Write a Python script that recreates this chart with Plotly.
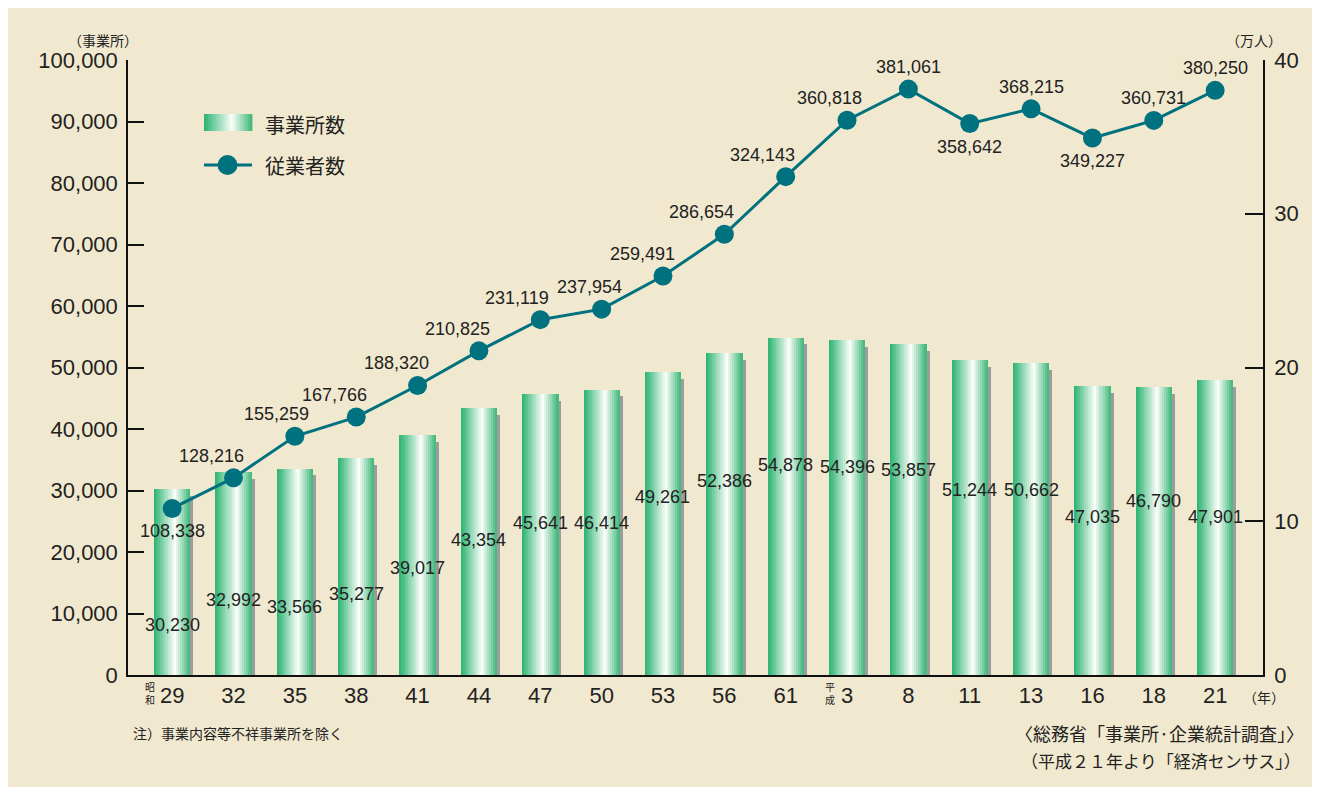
import plotly.graph_objects as go

# ---------------- data ----------------
years = ["29", "32", "35", "38", "41", "44", "47", "50", "53", "56", "61",
         "3", "8", "11", "13", "16", "18", "21"]
establishments = [30230, 32992, 33566, 35277, 39017, 43354, 45641, 46414, 49261,
                  52386, 54878, 54396, 53857, 51244, 50662, 47035, 46790, 47901]
employees = [108338, 128216, 155259, 167766, 188320, 210825, 231119, 237954, 259491,
             286654, 324143, 360818, 381061, 358642, 368215, 349227, 360731, 380250]

# label placement (layout only)
bar_label_y = [8130, 12200, 11060, 13170, 17400, 21950, 24700, 24700, 28950,
               31550, 34150, 33820, 33330, 30080, 30080, 25700, 28300, 25700]
line_label_pos = ["below", "above", "above", "above", "above", "above", "above", "above", "above",
                  "above", "above", "above", "above", "below", "above", "below", "above", "above"]
line_label_dx = [0, -22, -18, -22, -21, -21, -23, -12, -20, -23, -23, -18, 0, 0, 0, 0, 0, 0]

# ---------------- style ----------------
BG = "#f1e9cf"
TEAL = "#00717f"
TXT = "#222222"
NUM_FONT = "Liberation Sans, Arial, sans-serif"
JP_FONT = "Noto Sans CJK JP, sans-serif"

OFF = 8  # page body margin
W, H = 1312, 779
L, R, T, B = 120, 57, 52, 112
PW, PH = W - L - R, H - T - B


def px2x(px):
    return (px - OFF - L) / PW


def py2y(py):
    return (H - B - (py - OFF)) / PH


def grad(t):
    stops = [(0.0, (40, 178, 112)), (0.58, (252, 254, 250)), (1.0, (58, 182, 118))]
    for (t0, c0), (t1, c1) in zip(stops[:-1], stops[1:]):
        if t0 <= t <= t1:
            f = (t - t0) / (t1 - t0)
            c = [round(a + (b - a) * f) for a, b in zip(c0, c1)]
            return "rgb(%d,%d,%d)" % tuple(c)
    return "rgb(58,182,118)"


fig = go.Figure()

BW = 0.59
N = 18
# shadow
fig.add_trace(go.Bar(
    x=years, y=[v - 1100 for v in establishments], width=BW, offset=-BW / 2 + 0.05,
    marker=dict(color="#9c9c9c", line=dict(width=0)), hoverinfo="skip", showlegend=False))
for i in range(N):
    t = (i + 0.5) / N
    fig.add_trace(go.Bar(
        x=years, y=establishments, width=BW / N + 0.002, offset=-BW / 2 + i * BW / N,
        marker=dict(color=grad(t), line=dict(width=0)), showlegend=False,
        hoverinfo="skip" if i else "x+y"))

fig.add_trace(go.Scatter(
    x=years, y=[v / 10000 for v in employees], yaxis="y2", mode="lines+markers",
    line=dict(color=TEAL, width=3), marker=dict(color=TEAL, size=19),
    showlegend=False))

annotations = []
for k, (v, ly) in enumerate(zip(establishments, bar_label_y)):
    annotations.append(dict(x=k, y=ly, xref="x", yref="y", text=f"{v:,}", showarrow=False,
                            xanchor="center", yanchor="middle",
                            font=dict(family=NUM_FONT, size=18, color=TXT)))
for k, (v, pos, dx) in enumerate(zip(employees, line_label_pos, line_label_dx)):
    annotations.append(dict(x=k, y=v / 10000, xref="x", yref="y2", text=f"{v:,}", showarrow=False,
                            xanchor="center", yanchor="middle",
                            yshift=22 if pos == "above" else -23, xshift=dx,
                            font=dict(family=NUM_FONT, size=18, color=TXT)))


def pnote(px, py, text, size, xanchor="center", family=JP_FONT):
    return dict(x=px2x(px), y=py2y(py), xref="paper", yref="paper", text=text, showarrow=False,
                xanchor=xanchor, yanchor="middle", font=dict(family=family, size=size, color=TXT))


annotations += [
    pnote(103, 40, "（事業所）", 14),
    pnote(1254, 40, "（万人）", 14),
    pnote(1264, 697, "（年）", 14),
    dict(x=0, y=py2y(693), xref="x", yref="paper", xshift=-22, text="昭<br>和", showarrow=False,
         xanchor="center", yanchor="middle",
         font=dict(family=JP_FONT, size=10, color=TXT)),
    dict(x=11, y=py2y(693), xref="x", yref="paper", xshift=-17, text="平<br>成", showarrow=False,
         xanchor="center", yanchor="middle",
         font=dict(family=JP_FONT, size=10, color=TXT)),
    pnote(131, 733, "注）事業内容等不祥事業所を除く", 14, xanchor="left"),
    pnote(1306, 733, "〈総務省「事業所·企業統計調査」〉", 18, xanchor="right"),
    pnote(1303, 760, "（平成２１年より「経済センサス」）", 17, xanchor="right"),
    pnote(263, 124, "事業所数", 20, xanchor="left"),
    pnote(263, 165, "従業者数", 20, xanchor="left"),
]

shapes = []
# legend swatch with gradient
sx0, sx1, sy0, sy1 = 204, 252, 114, 131
NS = 24
for i in range(NS):
    a = sx0 + (sx1 - sx0) * i / NS
    b = sx0 + (sx1 - sx0) * (i + 1) / NS + 0.4
    shapes.append(dict(type="rect", xref="paper", yref="paper", x0=px2x(a), x1=px2x(b),
                       y0=py2y(sy1), y1=py2y(sy0), fillcolor=grad((i + 0.5) / NS),
                       line=dict(width=0), layer="above"))
shapes.append(dict(type="line", xref="paper", yref="paper", x0=px2x(204), x1=px2x(252),
                   y0=py2y(165), y1=py2y(165), line=dict(color=TEAL, width=3), layer="above"))
shapes.append(dict(type="circle", xref="paper", yref="paper", x0=px2x(217.5), x1=px2x(237.5),
                   y0=py2y(175), y1=py2y(155), fillcolor=TEAL, line=dict(width=0), layer="above"))

fig.update_layout(
    width=W, height=H,
    margin=dict(l=L, r=R, t=T, b=B),
    paper_bgcolor=BG, plot_bgcolor=BG,
    barmode="overlay", bargap=0,
    showlegend=False,
    annotations=annotations, shapes=shapes,
    xaxis=dict(type="category", categoryorder="array", categoryarray=years,
               range=[-0.72, 17.78], showline=True, linecolor="#111", linewidth=2,
               ticks="", showgrid=False, zeroline=False,
               tickfont=dict(family=NUM_FONT, size=22, color=TXT)),
    yaxis=dict(range=[0, 100000], dtick=10000, tickformat=",d", showline=True,
               linecolor="#111", linewidth=1.5, ticks="inside", ticklen=16, tickwidth=1.5,
               tickcolor="#111", showgrid=False, zeroline=False, ticklabelstandoff=4,
               tickfont=dict(family=NUM_FONT, size=22, color=TXT)),
    yaxis2=dict(range=[0, 40], dtick=10, overlaying="y", side="right", showline=True,
                linecolor="#111", linewidth=1.5, ticks="inside", ticklen=18, tickwidth=1.5,
                tickcolor="#111", showgrid=False, zeroline=False, ticklabelstandoff=5,
                tickfont=dict(family=NUM_FONT, size=22, color=TXT)),
)

fig.write_html("out.html")
